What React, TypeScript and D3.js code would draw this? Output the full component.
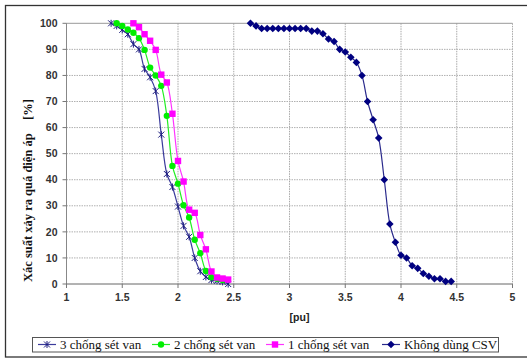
import React from "react";
import * as d3 from "d3";

// ---- data ----
const xTicks = [1, 1.5, 2, 2.5, 3, 3.5, 4, 4.5, 5];
const yTicks = [0, 10, 20, 30, 40, 50, 60, 70, 80, 90, 100];

const seriesNames = ["3 chống sét van", "2 chống sét van", "1 chống sét van", "Không dùng CSV"];

const x3 = [1.40, 1.45, 1.50, 1.55, 1.60, 1.65, 1.70, 1.75, 1.80, 1.85, 1.90, 1.95, 2.00, 2.05, 2.10, 2.15, 2.20, 2.25, 2.30, 2.35, 2.40, 2.45];
const y3 = [100, 99, 97.5, 95.8, 92, 90, 82.5, 79.3, 74, 57.3, 42.2, 37.2, 29.7, 22.3, 18.1, 10, 4.9, 2.7, 1.5, 1.2, 0.8, 0];

const x2 = [1.45, 1.50, 1.55, 1.60, 1.65, 1.70, 1.75, 1.80, 1.85, 1.90, 1.95, 2.00, 2.05, 2.10, 2.15, 2.20, 2.25, 2.30, 2.35, 2.40];
const y2 = [100, 99, 97.6, 96.4, 94.3, 89.8, 83, 80, 76, 64.5, 45.3, 38.5, 30.2, 25.5, 17, 11.8, 5, 2.6, 2, 1.5];

const x1 = [1.60, 1.65, 1.70, 1.75, 1.80, 1.85, 1.90, 1.95, 2.00, 2.05, 2.10, 2.15, 2.20, 2.25, 2.30, 2.35, 2.40, 2.45];
const y1 = [100, 98.5, 95.8, 93.3, 89.8, 80.3, 77.3, 65.3, 47.2, 39.3, 28.5, 27.3, 18.8, 13.3, 4.8, 2.5, 2.1, 1.7];

const xK = [2.65, 2.70, 2.75, 2.80, 2.85, 2.90, 2.95, 3.00, 3.05, 3.10, 3.15, 3.20, 3.25, 3.30, 3.35, 3.40, 3.45, 3.50, 3.55, 3.60, 3.65, 3.70, 3.75, 3.80, 3.85, 3.90, 3.95, 4.00, 4.05, 4.10, 4.15, 4.20, 4.25, 4.30, 4.35, 4.40, 4.45];
const yK = [100, 99, 98, 98, 98, 98, 98, 98, 98, 98, 98, 97, 97, 96, 94, 93, 90, 89, 87, 85, 80, 70, 63, 56, 40, 23, 16, 11, 10, 7, 6, 4, 3, 2, 2, 1, 1];

type Marker = "star" | "circle" | "square" | "diamond";

const W = 527;
const H = 360;
const plotLeft = 66.5;
const plotRight = 512.5;
const plotTop = 23.3;
const plotBottom = 284;

function MarkerShape({ type, x, y, color }: { type: Marker; x: number; y: number; color: string }) {
  if (type === "star") {
    const s = 3;
    return (
      <g stroke={color} strokeWidth={1}>
        <line x1={x - s} y1={y - s} x2={x + s} y2={y + s} />
        <line x1={x - s} y1={y + s} x2={x + s} y2={y - s} />
        <line x1={x} y1={y - s - 0.5} x2={x} y2={y + s + 0.5} />
      </g>
    );
  }
  if (type === "circle") return <circle cx={x} cy={y} r={3.2} fill={color} />;
  if (type === "square") return <rect x={x - 3.2} y={y - 3.2} width={6.4} height={6.4} fill={color} />;
  const d = 3.8;
  return <path d={`M${x},${y - d}L${x + d},${y}L${x},${y + d}L${x - d},${y}Z`} fill={color} />;
}

export default function App() {
  const xs = d3.scaleLinear().domain([1, 5]).range([plotLeft, plotRight]);
  const ys = d3.scaleLinear().domain([0, 100]).range([plotBottom, plotTop]);

  const series = [
    { name: seriesNames[0], xv: x3, yv: y3, line: "#3b3b9c", mark: "#1e1e80", marker: "star" as Marker },
    { name: seriesNames[1], xv: x2, yv: y2, line: "#22ee22", mark: "#00ee00", marker: "circle" as Marker },
    { name: seriesNames[2], xv: x1, yv: y1, line: "#ff33ff", mark: "#ff00ff", marker: "square" as Marker },
    { name: seriesNames[3], xv: xK, yv: yK, line: "#2a2a8c", mark: "#000080", marker: "diamond" as Marker },
  ];

  const lineGen = d3
    .line<[number, number]>()
    .x((d) => xs(d[0]))
    .y((d) => ys(d[1]))
    .curve(d3.curveCatmullRom.alpha(0.5));

  const legendX = [38, 152, 266, 382];
  const legendY = 344.5;

  return (
    <div style={{ position: "fixed", left: 0, top: 0, width: W, height: H, background: "#fff" }}>
      <svg width={W} height={H} style={{ display: "block" }}>
        <rect x={0} y={0} width={W} height={H} fill="#fff" />
        {/* outer frame */}
        <rect x={5.5} y={5.5} width={540} height={351.5} fill="none" stroke="#333" strokeWidth={1.3} />

        {/* gridlines */}
        {xTicks.slice(1).map((t) => (
          <line key={"gx" + t} x1={xs(t)} x2={xs(t)} y1={plotTop} y2={plotBottom} stroke="#a8a8a8" strokeWidth={1} strokeDasharray="1.5,1" />
        ))}
        {yTicks.slice(1).map((t) => (
          <line
            key={"gy" + t}
            x1={plotLeft}
            x2={plotRight}
            y1={ys(t)}
            y2={ys(t)}
            stroke={t === 100 ? "#999" : "#b0b0b0"}
            strokeWidth={1}
            strokeDasharray={t === 100 ? undefined : "1.5,1"}
          />
        ))}

        {/* axes */}
        <line x1={plotLeft} x2={plotLeft} y1={plotTop} y2={plotBottom} stroke="#888" strokeWidth={1} />
        <line x1={plotLeft} x2={plotRight} y1={plotBottom} y2={plotBottom} stroke="#666" strokeWidth={1} />
        {yTicks.map((t) => (
          <g key={"ty" + t}>
            <line x1={plotLeft - 4} x2={plotLeft} y1={ys(t)} y2={ys(t)} stroke="#777" />
            <text
              x={plotLeft - 9}
              y={ys(t)}
              dy="0.35em"
              textAnchor="end"
              fontFamily="'Liberation Sans', Arial, sans-serif"
              fontWeight="bold"
              fontSize={10.5}
              fill="#333"
            >
              {t}
            </text>
          </g>
        ))}
        {xTicks.map((t) => (
          <g key={"tx" + t}>
            <line x1={xs(t)} x2={xs(t)} y1={plotBottom} y2={plotBottom + 4} stroke="#777" />
            <text
              x={xs(t)}
              y={plotBottom + 17}
              textAnchor="middle"
              fontFamily="'Liberation Sans', Arial, sans-serif"
              fontWeight="bold"
              fontSize={10.5}
              fill="#333"
            >
              {t}
            </text>
          </g>
        ))}

        {/* axis titles */}
        <text
          x={(plotLeft + plotRight) / 2 + 10}
          y={321}
          textAnchor="middle"
          fontFamily="'Liberation Sans', Arial, sans-serif"
          fontWeight="bold"
          fontSize={10.5}
          fill="#222"
        >
          [pu]
        </text>
        <text
          transform={`translate(32,282) rotate(-90)`}
          textAnchor="start"
          fontFamily="'Liberation Serif', 'Times New Roman', serif"
          fontWeight="bold"
          fontSize={12.5}
          fill="#111"
        >
          Xác suất xảy ra quá điện áp
        </text>
        <text
          transform={`translate(32,120) rotate(-90)`}
          textAnchor="start"
          fontFamily="'Liberation Serif', 'Times New Roman', serif"
          fontWeight="bold"
          fontSize={12.5}
          fill="#111"
        >
          [%]
        </text>

        {/* series */}
        {series.map((s) => {
          const pts: [number, number][] = s.xv.map((x, i) => [x, s.yv[i]]);
          return (
            <g key={s.name}>
              <path d={lineGen(pts) || ""} fill="none" stroke={s.line} strokeWidth={1.2} />
              {pts.map((p, i) => (
                <MarkerShape key={i} type={s.marker} x={xs(p[0])} y={ys(p[1])} color={s.mark} />
              ))}
            </g>
          );
        })}

        {/* legend */}
        <rect x={32.5} y={337.5} width={466} height={14.5} fill="#fff" stroke="#555" strokeWidth={1} />
        {series.map((s, i) => {
          const x0 = legendX[i];
          return (
            <g key={"lg" + i}>
              <line x1={x0} x2={x0 + 18} y1={legendY} y2={legendY} stroke={s.line} strokeWidth={1.2} />
              <MarkerShape type={s.marker} x={x0 + 9} y={legendY} color={s.mark} />
              <text
                x={x0 + 22}
                y={legendY + 4.3}
                fontFamily="'Liberation Serif', 'Times New Roman', serif"
                fontSize={13}
                fill="#111"
              >
                {s.name}
              </text>
            </g>
          );
        })}
      </svg>
    </div>
  );
}
